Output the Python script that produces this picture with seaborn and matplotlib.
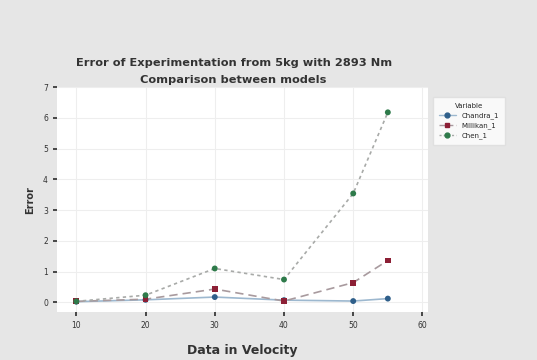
import matplotlib
matplotlib.use("Agg")
import matplotlib.pyplot as plt
import seaborn as sns
import pandas as pd

velocity = [10, 20, 30, 40, 50, 55]
chandra = [0.02, 0.08, 0.17, 0.07, 0.04, 0.12]
millikan = [0.03, 0.10, 0.43, 0.04, 0.64, 1.36]
chen = [0.03, 0.23, 1.10, 0.74, 3.54, 6.18]
series_names = ["Chandra_1", "Millikan_1", "Chen_1"]
x_ticks = [10, 20, 30, 40, 50, 60]
y_ticks = [0, 1, 2, 3, 4, 5, 6, 7]

df = pd.DataFrame({
    "Velocity": velocity * 3,
    "Error": chandra + millikan + chen,
    "Variable": [series_names[0]] * 6 + [series_names[1]] * 6 + [series_names[2]] * 6,
})

sns.set_theme(style="whitegrid")
plt.rcParams['font.family'] = ['DejaVu Sans']

fig = plt.figure(figsize=(5.37, 3.6), dpi=100)
fig.patch.set_facecolor("#e6e6e6")
ax = fig.add_axes([0.106, 0.133, 0.691, 0.625])
ax.set_facecolor("white")

marker_colors = {"Chandra_1": "#2f5f8a", "Millikan_1": "#8c1f35", "Chen_1": "#2e7a4a"}
line_colors = {"Chandra_1": "#9db8cf", "Millikan_1": "#a89a9e", "Chen_1": "#a8aaa8"}
dashes = {"Chandra_1": "", "Millikan_1": (5, 3), "Chen_1": (2, 2)}
markers = {"Chandra_1": "o", "Millikan_1": "s", "Chen_1": "o"}

sns.lineplot(data=df, x="Velocity", y="Error", hue="Variable", style="Variable",
             palette=line_colors, dashes=dashes, markers=False, linewidth=1.2,
             ax=ax, legend=False)
sns.scatterplot(data=df, x="Velocity", y="Error", hue="Variable", style="Variable",
                palette=marker_colors, markers=markers, s=18, edgecolor="none",
                ax=ax, legend=False, zorder=5)

ax.set_xlim(7.2, 60.8)
ax.set_ylim(-0.32, 7.0)
ax.set_xticks(x_ticks)
ax.set_yticks(y_ticks)
ax.tick_params(axis="both", labelsize=5.5, length=3, colors="#333333", left=True, bottom=True)
ax.grid(True, color="#eeeeee", linewidth=0.8)
for s in ax.spines.values():
    s.set_visible(False)

ax.set_xlabel("Data in Velocity", fontsize=9, fontweight="bold", color="#333333", labelpad=10)
ax.set_ylabel("Error", fontsize=7, fontweight="bold", color="#333333", labelpad=6)

fig.text(0.435, 0.825, "Error of Experimentation from 5kg with 2893 Nm",
         ha="center", va="center", fontsize=8.2, fontweight="bold", color="#333333")
fig.text(0.435, 0.778, "Comparison between models",
         ha="center", va="center", fontsize=8.2, fontweight="bold", color="#333333")

from matplotlib.lines import Line2D
handles = [Line2D([0], [0], color=line_colors[n], linestyle=ls, marker=markers[n],
                  markerfacecolor=marker_colors[n], markeredgecolor=marker_colors[n],
                  markersize=3.5, linewidth=1)
           for n, ls in zip(series_names, ["-", (0, (4, 2)), (0, (1.5, 1.5))])]
leg = fig.legend(handles, series_names, title="Variable", loc="upper left",
                 bbox_to_anchor=(0.8, 0.74), fontsize=5, title_fontsize=5,
                 frameon=True, fancybox=False, handlelength=2.5, borderpad=0.8,
                 labelspacing=0.5)
leg.get_frame().set_facecolor("white")
leg.get_frame().set_edgecolor("#dddddd")

fig.savefig("out.png", dpi=100, facecolor=fig.get_facecolor())
